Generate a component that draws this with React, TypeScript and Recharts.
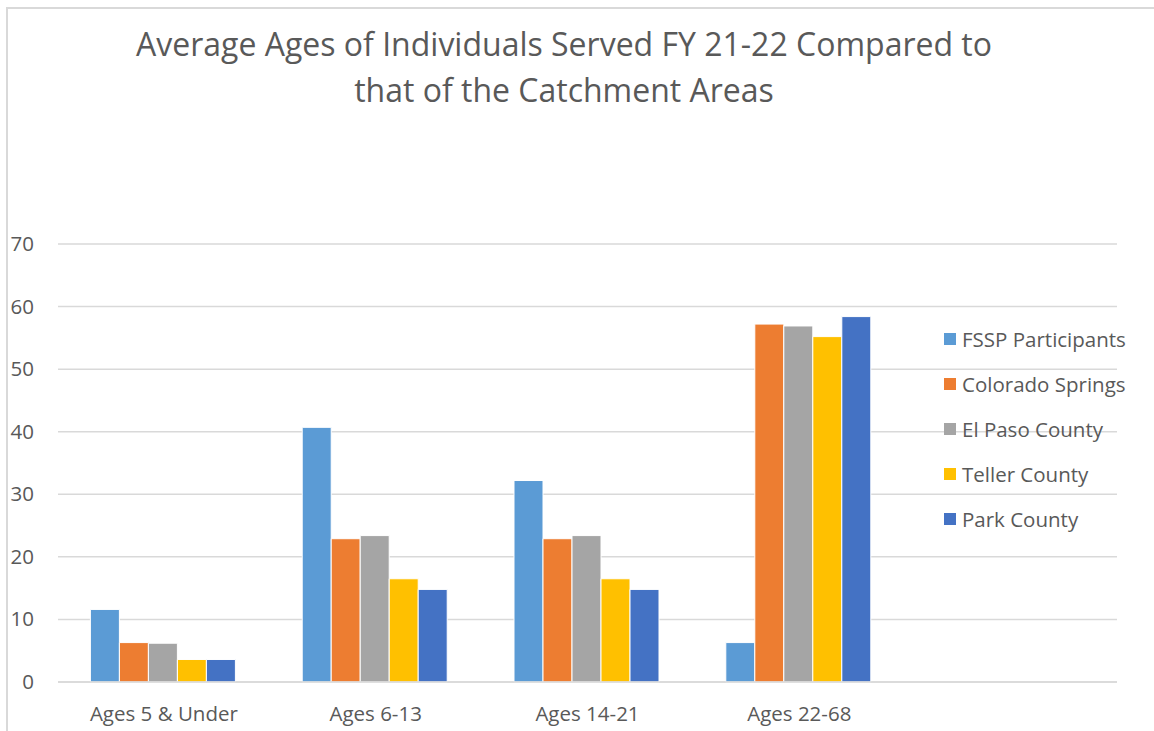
import React from 'react';
import { BarChart, Bar, XAxis, YAxis, CartesianGrid, Legend } from 'recharts';

const categories = ['Ages 5 & Under', 'Ages 6-13', 'Ages 14-21', 'Ages 22-68', ''];
const fssp = [11.6, 40.7, 32.2, 6.3, null];
const coloradoSprings = [6.3, 22.9, 22.9, 57.2, null];
const elPaso = [6.2, 23.4, 23.4, 56.9, null];
const teller = [3.6, 16.5, 16.5, 55.2, null];
const park = [3.6, 14.8, 14.8, 58.4, null];
const yTicks = [0, 10, 20, 30, 40, 50, 60, 70];

const series = [
  { key: 'fssp', name: 'FSSP Participants', color: '#5B9BD5', values: fssp },
  { key: 'cs', name: 'Colorado Springs', color: '#ED7D31', values: coloradoSprings },
  { key: 'ep', name: 'El Paso County', color: '#A5A5A5', values: elPaso },
  { key: 'tc', name: 'Teller County', color: '#FFC000', values: teller },
  { key: 'pc', name: 'Park County', color: '#4472C4', values: park },
];

const data = categories.map((c, i) => {
  const row: any = { name: c };
  series.forEach((s) => { row[s.key] = s.values[i]; });
  return row;
});

const FONT = '"Open Sans", sans-serif';
const TEXT = '#595959';
const FS = 20.5;

const YTick = (props: any) => {
  const { y, payload } = props;
  return (
    <text x={34} y={y} dy={7} textAnchor="end" fill={TEXT} fontSize={FS} fontFamily={FONT}>
      {payload.value}
    </text>
  );
};

const LegendContent = () => (
  <div style={{ fontFamily: FONT }}>
    {series.map((s) => (
      <div key={s.key} style={{ display: 'flex', alignItems: 'center', height: 45 }}>
        <div style={{ width: 12, height: 12, background: s.color, marginRight: 6 }} />
        <span style={{ fontSize: FS, color: TEXT, whiteSpace: 'nowrap' }}>{s.name}</span>
      </div>
    ))}
  </div>
);

export default function App() {
  return (
    <div style={{ position: 'absolute', left: 0, top: 0, width: 1154, height: 731, background: '#fff', overflow: 'hidden' }}>
      <div style={{ position: 'absolute', left: 6, top: 7, width: 1200, height: 800, borderLeft: '2px solid #d9d9d9', borderTop: '2px solid #d9d9d9' }} />
      <div style={{ position: 'absolute', left: 0, top: 21, width: 1128, textAlign: 'center', fontFamily: FONT, fontSize: 32, color: TEXT, lineHeight: '46px' }}>
        Average Ages of Individuals Served FY 21-22 Compared to<br />that of the Catchment Areas
      </div>
      <div style={{ position: 'absolute', left: 0, top: 0 }}>
        <BarChart width={1154} height={731} data={data} margin={{ top: 244, right: 37, bottom: 0, left: 0 }} barCategoryGap="15.3%" barGap={0}>
          <CartesianGrid vertical={false} stroke="#d9d9d9" strokeWidth={1.5} />
          <XAxis dataKey="name" height={49} axisLine={{ stroke: '#d9d9d9', strokeWidth: 1.5 }} tickLine={false} tick={{ fill: TEXT, fontSize: FS, fontFamily: FONT }} tickMargin={18} interval={0} />
          <YAxis width={58} domain={[0, 70]} ticks={yTicks} axisLine={false} tickLine={false} tick={<YTick />} />
          <Legend layout="vertical" verticalAlign="middle" align="center" content={<LegendContent />} wrapperStyle={{ left: 944, top: 316, width: 210 }} />
          {series.map((s) => (
            <Bar key={s.key} dataKey={s.key} name={s.name} fill={s.color} stroke="#ffffff" strokeWidth={1} isAnimationActive={false} />
          ))}
        </BarChart>
      </div>
    </div>
  );
}
